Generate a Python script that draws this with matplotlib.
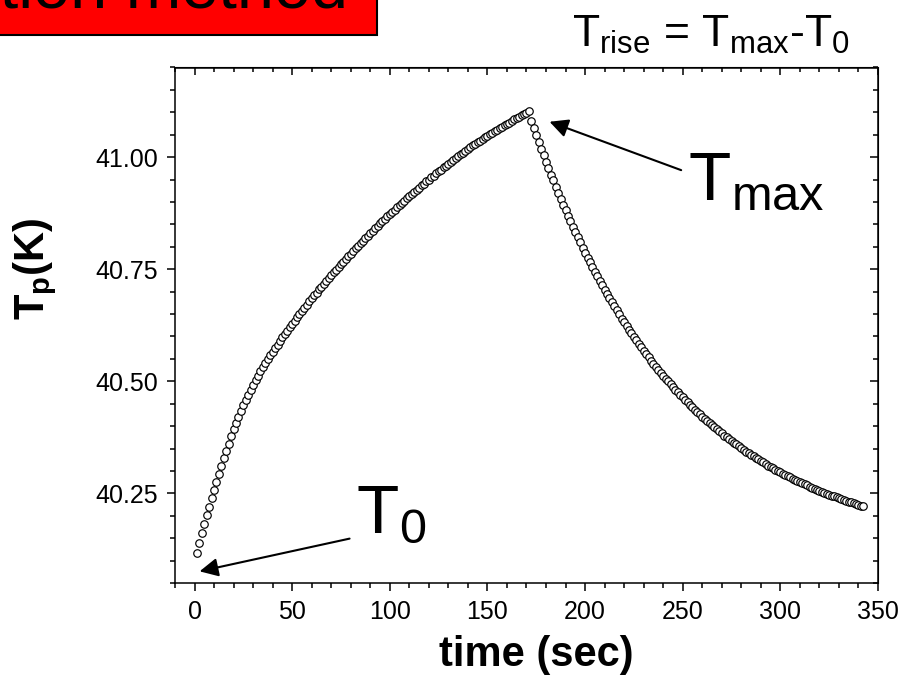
import matplotlib
matplotlib.use("Agg")
import matplotlib.pyplot as plt
from matplotlib.patches import Rectangle
from matplotlib.ticker import MultipleLocator, FormatStrFormatter
import numpy as np

plt.rcParams['font.family'] = ['Liberation Sans', 'DejaVu Sans']
plt.rcParams['mathtext.fontset'] = 'custom'
plt.rcParams['mathtext.rm'] = 'Liberation Sans'
plt.rcParams['mathtext.it'] = 'Liberation Sans:italic'
plt.rcParams['mathtext.bf'] = 'Liberation Sans:bold'

# heating part (sec, K)
rise_time = [
    1.25, 2.5, 3.75, 5.0, 6.25, 7.5, 8.75, 10.0,
    11.25, 12.5, 13.75, 15.0, 16.25, 17.5, 18.75, 20.0,
    21.25, 22.5, 23.75, 25.0, 26.25, 27.5, 28.75, 30.0,
    31.25, 32.5, 33.75, 35.0, 36.25, 37.5, 38.75, 40.0,
    41.25, 42.5, 43.75, 45.0, 46.25, 47.5, 48.75, 50.0,
    51.25, 52.5, 53.75, 55.0, 56.25, 57.5, 58.75, 60.0,
    61.25, 62.5, 63.75, 65.0, 66.25, 67.5, 68.75, 70.0,
    71.25, 72.5, 73.75, 75.0, 76.25, 77.5, 78.75, 80.0,
    81.25, 82.5, 83.75, 85.0, 86.25, 87.5, 88.75, 90.0,
    91.25, 92.5, 93.75, 95.0, 96.25, 97.5, 98.75, 100.0,
    101.25, 102.5, 103.75, 105.0, 106.25, 107.5, 108.75, 110.0,
    111.25, 112.5, 113.75, 115.0, 116.25, 117.5, 118.75, 120.0,
    121.25, 122.5, 123.75, 125.0, 126.25, 127.5, 128.75, 130.0,
    131.25, 132.5, 133.75, 135.0, 136.25, 137.5, 138.75, 140.0,
    141.25, 142.5, 143.75, 145.0, 146.25, 147.5, 148.75, 150.0,
    151.25, 152.5, 153.75, 155.0, 156.25, 157.5, 158.75, 160.0,
    161.25, 162.5, 163.75, 165.0, 166.25, 167.5, 168.75, 170.0,
    171.25,
]
rise_temp = [
    40.117, 40.140, 40.161, 40.181, 40.201, 40.220, 40.239, 40.257,
    40.275, 40.293, 40.311, 40.328, 40.345, 40.361, 40.377, 40.393,
    40.407, 40.421, 40.434, 40.447, 40.459, 40.470, 40.481, 40.492,
    40.502, 40.512, 40.522, 40.531, 40.540, 40.549, 40.558, 40.566,
    40.574, 40.582, 40.590, 40.598, 40.606, 40.613, 40.621, 40.628,
    40.635, 40.643, 40.650, 40.657, 40.664, 40.671, 40.678, 40.685,
    40.692, 40.698, 40.705, 40.711, 40.718, 40.724, 40.731, 40.737,
    40.743, 40.749, 40.755, 40.761, 40.767, 40.773, 40.779, 40.785,
    40.791, 40.797, 40.802, 40.808, 40.814, 40.819, 40.825, 40.830,
    40.836, 40.841, 40.847, 40.852, 40.857, 40.862, 40.868, 40.873,
    40.878, 40.883, 40.888, 40.893, 40.898, 40.903, 40.908, 40.913,
    40.918, 40.922, 40.927, 40.932, 40.937, 40.941, 40.946, 40.950,
    40.955, 40.959, 40.964, 40.968, 40.972, 40.977, 40.981, 40.985,
    40.989, 40.993, 40.998, 41.002, 41.006, 41.010, 41.014, 41.018,
    41.022, 41.026, 41.029, 41.033, 41.037, 41.040, 41.044, 41.047,
    41.051, 41.054, 41.058, 41.061, 41.064, 41.068, 41.071, 41.074,
    41.077, 41.080, 41.084, 41.087, 41.090, 41.093, 41.096, 41.099,
    41.102,
]

# relaxation part (sec, K)
decay_time = [
    172.5, 173.75, 175.0, 176.25, 177.5, 178.75, 180.0, 181.25,
    182.5, 183.75, 185.0, 186.25, 187.5, 188.75, 190.0, 191.25,
    192.5, 193.75, 195.0, 196.25, 197.5, 198.75, 200.0, 201.25,
    202.5, 203.75, 205.0, 206.25, 207.5, 208.75, 210.0, 211.25,
    212.5, 213.75, 215.0, 216.25, 217.5, 218.75, 220.0, 221.25,
    222.5, 223.75, 225.0, 226.25, 227.5, 228.75, 230.0, 231.25,
    232.5, 233.75, 235.0, 236.25, 237.5, 238.75, 240.0, 241.25,
    242.5, 243.75, 245.0, 246.25, 247.5, 248.75, 250.0, 251.25,
    252.5, 253.75, 255.0, 256.25, 257.5, 258.75, 260.0, 261.25,
    262.5, 263.75, 265.0, 266.25, 267.5, 268.75, 270.0, 271.25,
    272.5, 273.75, 275.0, 276.25, 277.5, 278.75, 280.0, 281.25,
    282.5, 283.75, 285.0, 286.25, 287.5, 288.75, 290.0, 291.25,
    292.5, 293.75, 295.0, 296.25, 297.5, 298.75, 300.0, 301.25,
    302.5, 303.75, 305.0, 306.25, 307.5, 308.75, 310.0, 311.25,
    312.5, 313.75, 315.0, 316.25, 317.5, 318.75, 320.0, 321.25,
    322.5, 323.75, 325.0, 326.25, 327.5, 328.75, 330.0, 331.25,
    332.5, 333.75, 335.0, 336.25, 337.5, 338.75, 340.0, 341.25,
    342.5,
]
decay_temp = [
    41.081, 41.065, 41.049, 41.034, 41.019, 41.004, 40.990, 40.975,
    40.961, 40.948, 40.934, 40.921, 40.907, 40.894, 40.882, 40.869,
    40.857, 40.845, 40.833, 40.821, 40.810, 40.798, 40.787, 40.776,
    40.765, 40.755, 40.744, 40.734, 40.724, 40.714, 40.704, 40.695,
    40.685, 40.676, 40.667, 40.658, 40.649, 40.640, 40.632, 40.623,
    40.615, 40.607, 40.599, 40.591, 40.583, 40.576, 40.568, 40.561,
    40.554, 40.546, 40.539, 40.532, 40.526, 40.519, 40.512, 40.506,
    40.500, 40.493, 40.487, 40.481, 40.475, 40.469, 40.464, 40.458,
    40.453, 40.447, 40.442, 40.436, 40.431, 40.426, 40.421, 40.416,
    40.411, 40.406, 40.402, 40.397, 40.393, 40.388, 40.384, 40.379,
    40.375, 40.371, 40.367, 40.363, 40.359, 40.355, 40.351, 40.347,
    40.343, 40.340, 40.336, 40.333, 40.329, 40.326, 40.322, 40.319,
    40.316, 40.312, 40.309, 40.306, 40.303, 40.300, 40.297, 40.294,
    40.291, 40.289, 40.286, 40.283, 40.280, 40.278, 40.275, 40.273,
    40.270, 40.268, 40.265, 40.263, 40.260, 40.258, 40.256, 40.254,
    40.251, 40.249, 40.247, 40.245, 40.243, 40.241, 40.239, 40.237,
    40.235, 40.233, 40.231, 40.230, 40.228, 40.226, 40.224, 40.222,
    40.221,
]

xticks = [0, 50, 100, 150, 200, 250, 300, 350]
yticks = [40.25, 40.50, 40.75, 41.00]

time_s = np.array(rise_time + decay_time)
temp_k = np.array(rise_temp + decay_temp)

fig = plt.figure(figsize=(9.01, 6.75), dpi=100)
ax = fig.add_axes([0.1942, 0.1363, 0.7803, 0.7637])

ax.plot(time_s, temp_k, linestyle='none', marker='o', markersize=5.4,
        markerfacecolor='white', markeredgecolor='black', markeredgewidth=0.85)

ax.set_xlim(-10, 350)
ax.set_ylim(40.05, 41.2)
ax.set_xticks(xticks)
ax.set_yticks(yticks)
ax.xaxis.set_minor_locator(MultipleLocator(10))
ax.yaxis.set_minor_locator(MultipleLocator(0.05))
ax.yaxis.set_major_formatter(FormatStrFormatter('%.2f'))
ax.tick_params(which='both', direction='out', width=1.1, labelsize=18)
ax.tick_params(which='major', length=6, pad=6)
ax.tick_params(which='minor', length=3.5)
for sp in ax.spines.values():
    sp.set_linewidth(1.1)

# inward ticks on top and right, like the original
top = ax.secondary_xaxis('top')
top.set_xticks(xticks)
top.xaxis.set_minor_locator(MultipleLocator(10))
top.tick_params(which='both', direction='in', width=1.1, labeltop=False)
top.tick_params(which='major', length=6)
top.tick_params(which='minor', length=3.5)
right = ax.secondary_yaxis('right')
right.set_yticks(yticks)
right.yaxis.set_minor_locator(MultipleLocator(0.05))
right.tick_params(which='both', direction='in', width=1.1, labelright=False)
right.tick_params(which='major', length=6)
right.tick_params(which='minor', length=3.5)

ax.set_xlabel('time (sec)', fontsize=30, fontweight='bold')
ax.xaxis.set_label_coords(0.5135, -0.10)
ax.set_ylabel(r'$\mathbf{T_p(K)}$', fontsize=30)
ax.yaxis.set_label_coords(-0.165, 0.61)

# arrows pointing at T_max and T_0
ax.annotate('', xy=(181.8, 41.079), xytext=(249.2, 40.971),
            arrowprops=dict(arrowstyle='-|>', color='black', lw=1.5,
                            mutation_scale=28, shrinkA=0, shrinkB=0))
ax.annotate('', xy=(2.6, 40.076), xytext=(79.4, 40.149),
            arrowprops=dict(arrowstyle='-|>', color='black', lw=1.5,
                            mutation_scale=28, shrinkA=0, shrinkB=0))

fig.text(0.7636, 0.7037, r'$\mathrm{T_{max}}$', fontsize=50, va='baseline')
fig.text(0.3951, 0.2104, r'$\mathrm{T_0}$', fontsize=50, va='baseline')
fig.text(0.6348, 0.9308,
         r'$\mathrm{T_{rise}}$ = $\mathrm{T_{max}}$-$\mathrm{T_0}$',
         fontsize=32, va='baseline')

# red title box, cut off by the top edge
fig.patches.append(Rectangle((-0.01, 1 - 35 / 675), 377 / 901 + 0.01, 0.2,
                             transform=fig.transFigure, facecolor='#ff0000',
                             edgecolor='black', linewidth=1.5, zorder=0))
fig.text(348 / 901, 1 - 8 / 675, 'Relaxation method', fontsize=48,
         ha='right', va='baseline')

fig.savefig('out.png', dpi=100)
